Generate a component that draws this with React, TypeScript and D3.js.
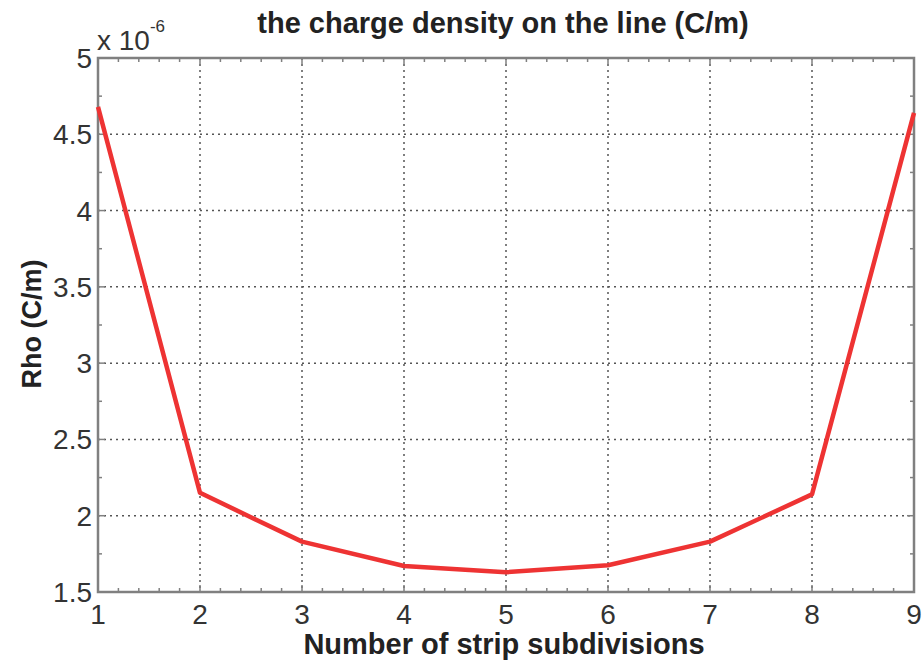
import React from "react";
import * as d3 from "d3";

const xValues = [1, 2, 3, 4, 5, 6, 7, 8, 9];
const rhoValues = [4.68, 2.15, 1.83, 1.67, 1.63, 1.675, 1.83, 2.14, 4.64];
const xTicks = [1, 2, 3, 4, 5, 6, 7, 8, 9];
const yTicks = [1.5, 2, 2.5, 3, 3.5, 4, 4.5, 5];
const titleText = "the charge density on the line (C/m)";
const xLabelText = "Number of strip subdivisions";
const yLabelText = "Rho (C/m)";

export default function App() {
  const W = 922, H = 662;
  const left = 98, right = 914, top = 58, bottom = 592;
  const x = d3.scaleLinear().domain([1, 9]).range([left, right]);
  const y = d3.scaleLinear().domain([1.5, 5]).range([bottom, top]);
  const line = d3.line<number>().x((_, i) => x(xValues[i])).y((d) => y(d));
  const xMinor = d3.range(1, 9.001, 0.2).filter((v) => Math.abs(v - Math.round(v)) > 0.01);
  const yMinor = d3.range(1.75, 5, 0.5);
  const axisColor = "#808080";
  const gridColor = "#555";
  const font = "Liberation Sans, Arial, sans-serif";
  return (
    <svg width={W} height={H} style={{ position: "absolute", left: 0, top: 0, background: "#fff" }}>
      <rect x={0} y={0} width={W} height={H} fill="#fff" />
      {/* grid */}
      {xTicks.slice(1, -1).map((t) => (
        <line key={"gx" + t} x1={x(t)} x2={x(t)} y1={top} y2={bottom} stroke={gridColor} strokeWidth={1.5} strokeDasharray="2,4" />
      ))}
      {yTicks.slice(1, -1).map((t) => (
        <line key={"gy" + t} x1={left} x2={right} y1={y(t)} y2={y(t)} stroke={gridColor} strokeWidth={1.5} strokeDasharray="2,4" />
      ))}
      {/* minor ticks */}
      {xMinor.map((t) => (
        <g key={"mx" + t}>
          <line x1={x(t)} x2={x(t)} y1={bottom} y2={bottom - 4} stroke={axisColor} strokeWidth={1.5} />
          <line x1={x(t)} x2={x(t)} y1={top} y2={top + 4} stroke={axisColor} strokeWidth={1.5} />
        </g>
      ))}
      {yMinor.map((t) => (
        <g key={"my" + t}>
          <line x1={left} x2={left + 4} y1={y(t)} y2={y(t)} stroke={axisColor} strokeWidth={1.5} />
          <line x1={right} x2={right - 4} y1={y(t)} y2={y(t)} stroke={axisColor} strokeWidth={1.5} />
        </g>
      ))}
      {/* major ticks */}
      {xTicks.map((t) => (
        <g key={"tx" + t}>
          <line x1={x(t)} x2={x(t)} y1={bottom} y2={bottom - 7} stroke={axisColor} strokeWidth={1.5} />
          <line x1={x(t)} x2={x(t)} y1={top} y2={top + 7} stroke={axisColor} strokeWidth={1.5} />
        </g>
      ))}
      {yTicks.map((t) => (
        <g key={"ty" + t}>
          <line x1={left} x2={left + 7} y1={y(t)} y2={y(t)} stroke={axisColor} strokeWidth={1.5} />
          <line x1={right} x2={right - 7} y1={y(t)} y2={y(t)} stroke={axisColor} strokeWidth={1.5} />
        </g>
      ))}
      <rect x={left} y={top} width={right - left} height={bottom - top} fill="none" stroke={axisColor} strokeWidth={2.5} />
      {/* data line */}
      <path d={line(rhoValues) || ""} fill="none" stroke="#ee3333" strokeWidth={4.5} strokeLinejoin="round" />
      {/* tick labels */}
      {xTicks.map((t) => (
        <text key={"lx" + t} x={x(t)} y={624} textAnchor="middle" fontFamily={font} fontSize={28} fill="#333">{t}</text>
      ))}
      {yTicks.map((t) => (
        <text key={"ly" + t} x={left - 6} y={y(t) + 10} textAnchor="end" fontFamily={font} fontSize={28} fill="#333">{t}</text>
      ))}
      {/* exponent */}
      <text x={left - 1} y={50} fontFamily={font} fontSize={28} fill="#333">
        x 10
        <tspan dy={-18} fontSize={17}>-6</tspan>
      </text>
      {/* title */}
      <text x={503} y={33} textAnchor="middle" fontFamily={font} fontWeight="bold" fontSize={29} fill="#222">{titleText}</text>
      {/* x label */}
      <text x={504} y={654} textAnchor="middle" fontFamily={font} fontWeight="bold" fontSize={29} fill="#222">{xLabelText}</text>
      {/* y label */}
      <text transform={`translate(41, 324) rotate(-90)`} textAnchor="middle" fontFamily={font} fontWeight="bold" fontSize={27} fill="#222">{yLabelText}</text>
    </svg>
  );
}
